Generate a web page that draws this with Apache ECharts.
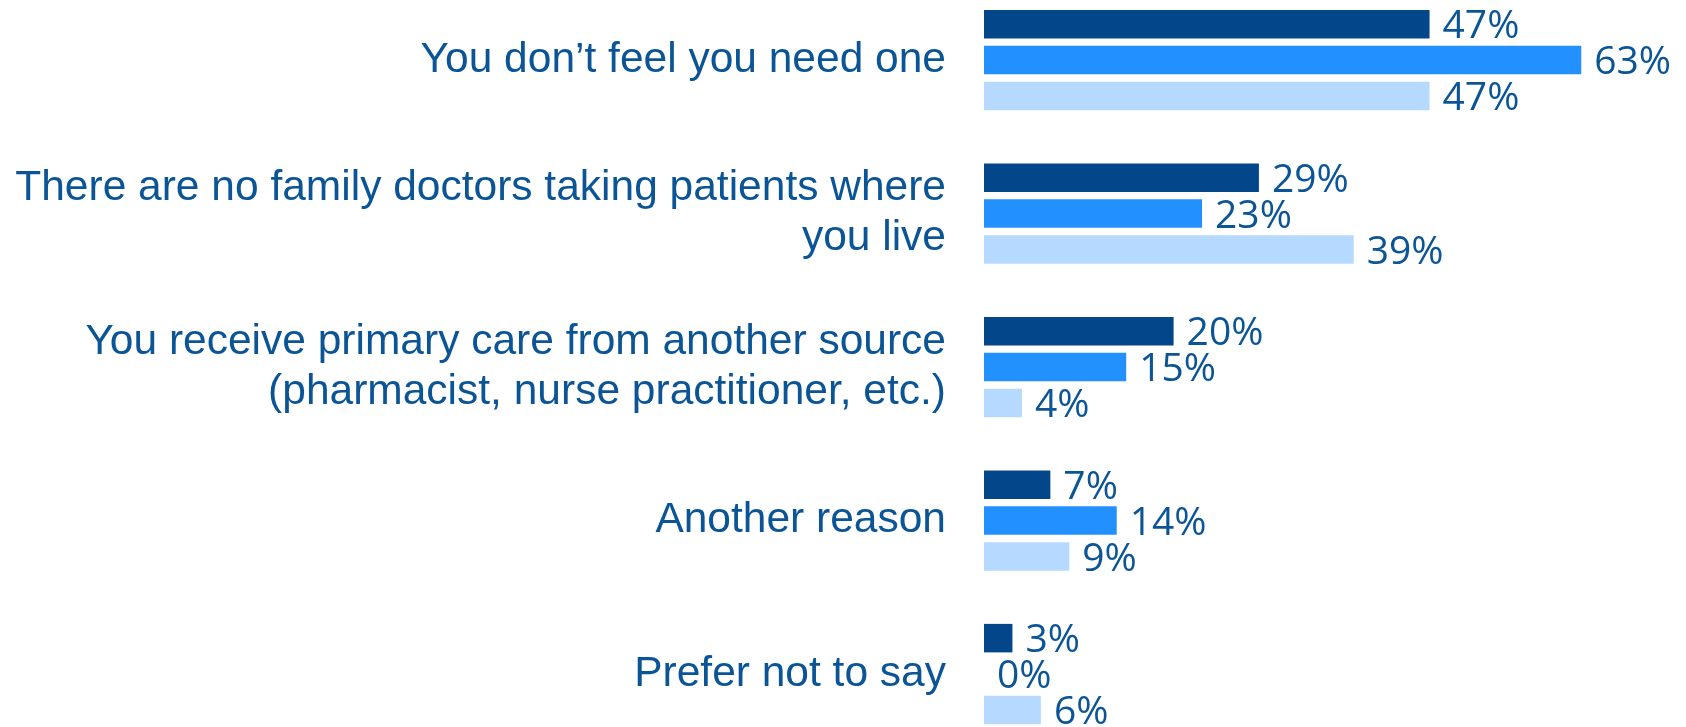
<!DOCTYPE html>
<html><head><meta charset="utf-8">
<script src="https://cdn.jsdelivr.net/npm/echarts@6/dist/echarts.min.js"></script>
<style>html,body{margin:0;padding:0;background:#fff}#c{width:1686px;height:727px}</style>
</head><body><div id="c"></div>
<script>
const categories = [
  "You don\u2019t feel you need one",
  "There are no family doctors taking patients where\nyou live",
  "You receive primary care from another source\n(pharmacist, nurse practitioner, etc.)",
  "Another reason",
  "Prefer not to say"
];
const seriesA = [47, 29, 20, 7, 3];
const seriesB = [63, 23, 15, 14, 0];
const seriesC = [47, 39, 4, 9, 6];
const colors = ["#03468A", "#2290FF", "#B6DAFF"];

const chart = echarts.init(document.getElementById('c'), null, {renderer: 'canvas'});
const labelStyle = {
  show: true, position: 'right', distance: 13, offset: [0, 3],
  formatter: p => p.value + '%',
  color: '#0B5597', fontSize: 39,
  fontFamily: '"Open Sans", sans-serif'
};
function mk(name, data, color) {
  return {
    type: 'bar', name, data, barWidth: 28.5, barGap: '26%',
    itemStyle: {color}, label: labelStyle, animation: false, clip: false
  };
}
chart.setOption({
  animation: false,
  grid: {left: 984, width: 663.6, top: -16.7, height: 767.5, containLabel: false, outerBoundsMode: 'none'},
  xAxis: {type: 'value', min: 0, max: 70, show: false},
  yAxis: {
    type: 'category', data: categories, inverse: true,
    axisLine: {show: false}, axisTick: {show: false}, splitLine: {show: false},
    axisLabel: {
      margin: 38, color: '#0B5597', fontSize: 42.5, lineHeight: 50, align: 'right',
      padding: [5, 0, 0, 0],
      fontFamily: '"Liberation Sans", Arial, sans-serif'
    }
  },
  series: [mk('A', seriesA, colors[0]), mk('B', seriesB, colors[1]), mk('C', seriesC, colors[2])]
});
</script></body></html>
